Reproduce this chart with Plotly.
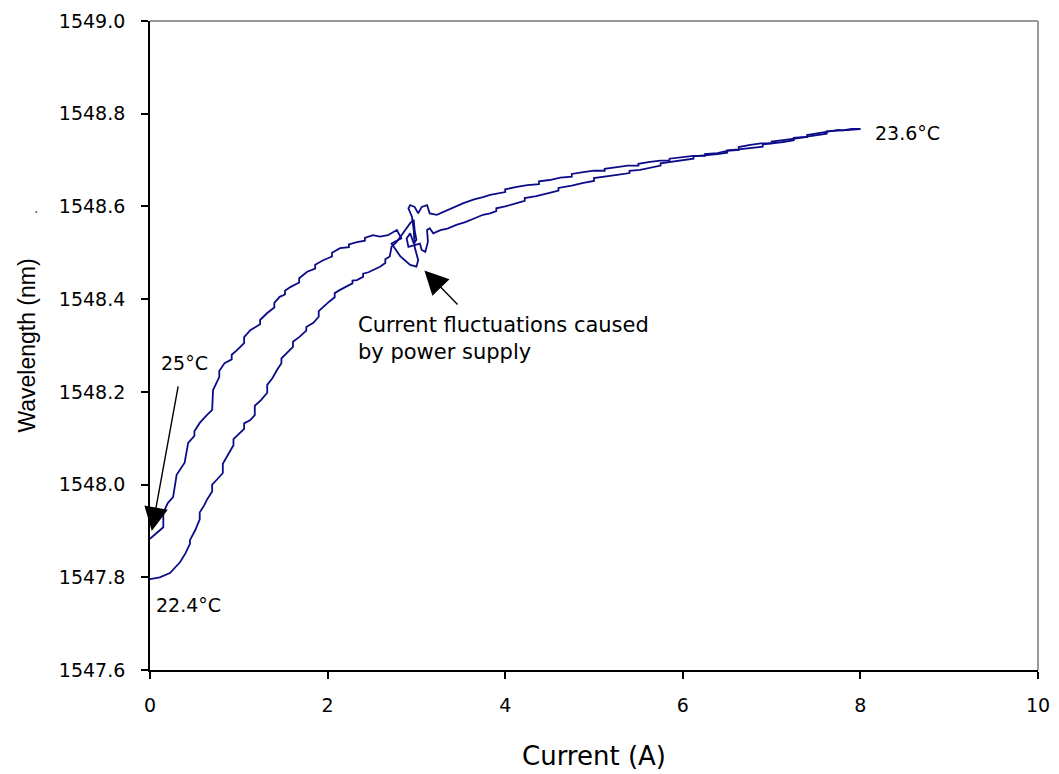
import plotly.graph_objects as go

# Forward sweep (increasing current, from 22.4 °C)
current_up = [0.000, 0.110, 0.225, 0.280, 0.340, 0.400, 0.450, 0.450, 0.510, 0.560, 0.560, 0.610, 0.640,
              0.700, 0.700, 0.760, 0.820, 0.820, 0.880, 0.940, 0.940, 1.010, 1.060, 1.060, 1.130, 1.180,
              1.180, 1.250, 1.320, 1.320, 1.380, 1.430, 1.480, 1.480, 1.540, 1.610, 1.610, 1.680, 1.760,
              1.760, 1.840, 1.900, 1.900, 1.950, 2.020, 2.080, 2.080, 2.140, 2.220, 2.280, 2.280, 2.330,
              2.400, 2.400, 2.460, 2.510, 2.590, 2.650, 2.650, 2.700,
              2.72, 2.78, 2.82, 2.87, 2.93, 2.97, 2.98, 3.00, 2.97, 2.93, 2.89, 2.91, 3.04, 3.06, 3.10,
              3.13, 3.12, 3.15, 3.19, 3.27, 3.35, 3.45, 3.55, 3.65, 3.75, 3.83,
              3.90, 3.90, 4.00, 4.13, 4.22, 4.22, 4.35, 4.50, 4.60, 4.60, 4.75, 4.88, 5.00, 5.00, 5.13,
              5.26, 5.40, 5.40, 5.52, 5.63, 5.75, 5.75, 5.86, 6.00, 6.12, 6.12, 6.25, 6.39, 6.50, 6.50,
              6.63, 6.76, 6.90, 6.90, 7.02, 7.13, 7.25, 7.25, 7.38, 7.51, 7.62, 7.62, 7.75, 7.88, 8.00]
wavelength_up = [1547.796, 1547.800, 1547.809, 1547.820, 1547.833, 1547.852, 1547.872, 1547.880, 1547.902,
                 1547.925, 1547.940, 1547.955, 1547.967, 1547.985, 1548.000, 1548.012, 1548.025, 1548.045,
                 1548.065, 1548.085, 1548.098, 1548.111, 1548.120, 1548.132, 1548.139, 1548.150, 1548.170,
                 1548.182, 1548.198, 1548.215, 1548.230, 1548.247, 1548.262, 1548.272, 1548.283, 1548.297,
                 1548.308, 1548.318, 1548.332, 1548.340, 1548.349, 1548.362, 1548.374, 1548.383, 1548.395,
                 1548.404, 1548.413, 1548.420, 1548.428, 1548.434, 1548.440, 1548.441, 1548.448, 1548.455,
                 1548.458, 1548.463, 1548.470, 1548.478, 1548.486, 1548.492,
                 1548.513, 1548.524, 1548.535, 1548.549, 1548.564, 1548.571, 1548.549, 1548.528, 1548.520,
                 1548.542, 1548.531, 1548.513, 1548.520, 1548.506, 1548.502, 1548.524, 1548.549, 1548.553,
                 1548.542, 1548.549, 1548.552, 1548.560, 1548.566, 1548.574, 1548.582, 1548.585,
                 1548.590, 1548.596, 1548.600, 1548.607, 1548.612, 1548.618, 1548.622, 1548.629, 1548.634,
                 1548.640, 1548.645, 1548.651, 1548.655, 1548.661, 1548.664, 1548.668, 1548.672, 1548.677,
                 1548.679, 1548.683, 1548.688, 1548.693, 1548.696, 1548.700, 1548.703, 1548.708, 1548.710,
                 1548.713, 1548.716, 1548.721, 1548.723, 1548.726, 1548.729, 1548.734, 1548.736, 1548.739,
                 1548.743, 1548.748, 1548.750, 1548.754, 1548.757, 1548.762, 1548.763, 1548.765, 1548.767]

# Return sweep (decreasing current, ending at 25 °C)
current_down = [8.00, 7.90, 7.80, 7.75, 7.65, 7.51, 7.40, 7.40, 7.25, 7.13, 7.00, 7.00, 6.88, 6.76, 6.63,
                6.63, 6.50, 6.39, 6.25, 6.25, 6.12, 6.00, 5.85, 5.85, 5.75, 5.63, 5.50, 5.50, 5.38, 5.26,
                5.12, 5.12, 5.00, 4.88, 4.75, 4.75, 4.62, 4.50, 4.38, 4.38, 4.25, 4.13, 4.00, 4.00, 3.88,
                3.83, 3.75, 3.65, 3.53, 3.45, 3.34, 3.23, 3.15, 3.12, 3.06, 3.02, 2.98, 2.93, 2.91, 2.95,
                2.97, 2.98, 3.02, 3.00, 2.93, 2.82, 2.72, 2.83, 2.78, 2.74, 2.68, 2.59, 2.51, 2.42, 2.42,
                2.33, 2.24, 2.24, 2.14, 2.05, 2.05, 1.95, 1.86, 1.86, 1.77, 1.68, 1.68, 1.58, 1.52, 1.52,
                1.46, 1.40, 1.40, 1.32, 1.24, 1.24, 1.13, 1.06, 1.06, 0.98, 0.92, 0.92, 0.84, 0.78, 0.78,
                0.71, 0.70, 0.64, 0.56, 0.50, 0.50, 0.43, 0.39, 0.30, 0.26, 0.20, 0.15, 0.15, 0.02, 0.00]
wavelength_down = [1548.767, 1548.767, 1548.764, 1548.765, 1548.762, 1548.758, 1548.754, 1548.750, 1548.747,
                   1548.743, 1548.740, 1548.736, 1548.736, 1548.733, 1548.728, 1548.722, 1548.720, 1548.715,
                   1548.713, 1548.709, 1548.709, 1548.707, 1548.703, 1548.699, 1548.699, 1548.696, 1548.692,
                   1548.688, 1548.688, 1548.685, 1548.681, 1548.677, 1548.677, 1548.674, 1548.670, 1548.664,
                   1548.662, 1548.657, 1548.654, 1548.648, 1548.646, 1548.642, 1548.637, 1548.631, 1548.627,
                   1548.625, 1548.620, 1548.615, 1548.607, 1548.600, 1548.592, 1548.582, 1548.585, 1548.603,
                   1548.599, 1548.585, 1548.599, 1548.603, 1548.596, 1548.578, 1548.549, 1548.513, 1548.484,
                   1548.470, 1548.474, 1548.492, 1548.520, 1548.531, 1548.549, 1548.545, 1548.538, 1548.535,
                   1548.538, 1548.532, 1548.526, 1548.523, 1548.518, 1548.512, 1548.510, 1548.500, 1548.492,
                   1548.484, 1548.474, 1548.466, 1548.459, 1548.445, 1548.436, 1548.426, 1548.418, 1548.410,
                   1548.405, 1548.392, 1548.382, 1548.370, 1548.355, 1548.346, 1548.333, 1548.318, 1548.305,
                   1548.290, 1548.280, 1548.270, 1548.262, 1548.245, 1548.232, 1548.204, 1548.161, 1548.150,
                   1548.133, 1548.115, 1548.105, 1548.090, 1548.047, 1548.021, 1547.973, 1547.960, 1547.939,
                   1547.908, 1547.885, 1547.883]

x_ticks = [0, 2, 4, 6, 8, 10]
y_ticks = [1547.6, 1547.8, 1548.0, 1548.2, 1548.4, 1548.6, 1548.8, 1549.0]

LINE = "#0c0c88"
FONT = "DejaVu Sans, Arial, sans-serif"
TITLE_FONT = "Liberation Sans, Arial, sans-serif"

fig = go.Figure()
for xs, ys in [(current_up, wavelength_up), (current_down, wavelength_down)]:
    fig.add_trace(go.Scatter(x=xs, y=ys, mode="lines",
                             line=dict(color=LINE, width=1.8), showlegend=False,
                             hoverinfo="x+y"))

fig.update_layout(
    width=1059, height=774, autosize=False,
    margin=dict(l=150, r=21, t=21, b=104, autoexpand=False),
    paper_bgcolor="white", plot_bgcolor="white",
    font=dict(family=FONT, color="black"),
    xaxis=dict(range=[0, 10], tickvals=x_ticks, ticktext=[str(v) for v in x_ticks], automargin=False,
               ticks="outside", ticklen=7, tickwidth=1.5, tickcolor="black", ticklabelstandoff=10,
               showline=True, linecolor="black", linewidth=1.8, showgrid=False, zeroline=False,
               tickfont=dict(size=19, family=FONT),
               title=dict(text="Current (A)", font=dict(size=26, family=FONT), standoff=32)),
    yaxis=dict(range=[1547.6, 1549.0], tickvals=y_ticks, ticktext=[f"{v:.1f}" for v in y_ticks],
               automargin=False,
               ticks="outside", ticklen=7, tickwidth=1.5, tickcolor="black", ticklabelstandoff=12,
               showline=True, linecolor="black", linewidth=1.8, showgrid=False, zeroline=False,
               tickfont=dict(size=19, family=FONT),
               title=dict(text="Wavelength (nm)", font=dict(size=23, family=TITLE_FONT), standoff=17)),
)

# gray frame on top and right
fig.add_shape(type="line", xref="paper", yref="paper", x0=0, x1=1, y0=1, y1=1,
              line=dict(color="#999999", width=2))
fig.add_shape(type="line", xref="paper", yref="paper", x0=1, x1=1, y0=0, y1=1,
              line=dict(color="#999999", width=2))

fig.add_annotation(x=8.14, y=1548.758, text="23.6°C", showarrow=False, xanchor="left",
                   font=dict(size=19, family=FONT, color="black"))
fig.add_annotation(x=0.04, y=1547.740, text="22.4°C", showarrow=False, xanchor="left",
                   font=dict(size=19, family=FONT, color="black"))
fig.add_annotation(x=0.10, y=1548.262, text="25°C", showarrow=False, xanchor="left",
                   font=dict(size=19, family=FONT, color="black"))
fig.add_annotation(x=0.02, y=1547.90, ax=0.32, ay=1548.215, axref="x", ayref="y",
                   text="", showarrow=True, arrowhead=2, arrowsize=3.4, arrowwidth=1.4,
                   arrowcolor="black", standoff=0)
fig.add_annotation(x=2.32, y=1548.316, text="Current fluctuations caused<br>by power supply",
                   showarrow=False, xanchor="left", align="left",
                   font=dict(size=21, family=FONT, color="black"))
fig.add_annotation(x=3.09, y=1548.462, ax=3.48, ay=1548.385, axref="x", ayref="y",
                   text="", showarrow=True, arrowhead=2, arrowsize=3.4, arrowwidth=1.4,
                   arrowcolor="black", standoff=0)
fig.add_annotation(x=-0.133, y=0.728, xref="paper", yref="paper", text=".", showarrow=False,
                   font=dict(size=14, color="#444444"))

fig.write_html("out.html", post_script="document.body.style.margin='0px';",
               config={"displayModeBar": False})
